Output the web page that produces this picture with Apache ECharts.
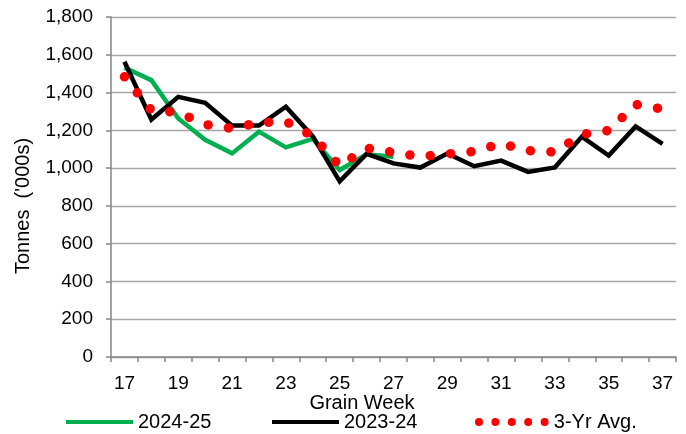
<!DOCTYPE html>
<html>
<head>
<meta charset="utf-8">
<script src="https://cdn.jsdelivr.net/npm/echarts@6/dist/echarts.min.js"></script>
<style>
html,body{margin:0;padding:0;background:#fff;}
#chart{width:686px;height:434px;}
</style>
</head>
<body>
<div id="chart"></div>
<script>
// Categories (grain weeks)
const weeks = ['17','18','19','20','21','22','23','24','25','26','27','28','29','30','31','32','33','34','35','36','37'];
// Series values (thousand tonnes)
const crop2425 = [1532, 1466, 1263, 1150, 1078, 1193, 1110, 1155, 990, 1073, 1060];
const crop2324 = [1563, 1257, 1377, 1346, 1225, 1225, 1325, 1168, 930, 1075, 1025, 1003, 1077, 1010, 1040, 980, 1004, 1166, 1066, 1221, 1128];
const avg3yr   = [1484, 1306, 1295, 1231, 1210, 1241, 1247, 1170, 1012, 1106, 1083, 1061, 1075, 1088, 1130, 1092, 1085, 1178, 1199, 1337, 1313];
// Axis / labels
const seriesNames = ['2024-25', '2023-24', '3-Yr Avg.'];
const yMin = 0, yMax = 1800, yStep = 200;
const yTitle = "Tonnes  ('000s)";
const xTitle = 'Grain Week';

const FONT = "'Liberation Sans', Arial, sans-serif";
const FS = 19;

function dotsPath(n, r, gap) {
  let p = '';
  for (let i = 0; i < n; i++) {
    const cx = r + i * gap;
    p += 'M' + (cx - r) + ',' + r + 'a' + r + ',' + r + ' 0 1,0 ' + (2*r) + ',0a' + r + ',' + r + ' 0 1,0 ' + (-2*r) + ',0Z';
  }
  return 'path://' + p;
}

const chart = echarts.init(document.getElementById('chart'), null, {renderer: 'canvas'});
const legendBase = {
  orient: 'horizontal', padding: 0, top: 412, itemGap: 0,
  textStyle: {fontFamily: FONT, fontSize: FS + 1, color: '#000'},
  selectedMode: false
};
chart.setOption({
  animation: false,
  backgroundColor: '#fff',
  grid: {left: 111, right: 10, top: 17, bottom: 77, containLabel: false},
  xAxis: {
    type: 'category',
    data: weeks,
    boundaryGap: true,
    axisLine: {show: true, lineStyle: {color: '#868686', width: 1.5}},
    axisTick: {show: true, interval: 0, length: 5, lineStyle: {color: '#868686', width: 1.5}},
    axisLabel: {interval: 1, margin: 17, fontFamily: FONT, fontSize: FS, color: '#000'},
    splitLine: {show: false}
  },
  yAxis: {
    type: 'value',
    min: yMin, max: yMax, interval: yStep,
    axisLine: {show: true, lineStyle: {color: '#868686', width: 1.5}},
    axisTick: {show: true, length: 5, lineStyle: {color: '#868686', width: 1.5}},
    axisLabel: {margin: 18, fontFamily: FONT, fontSize: FS, color: '#000',
      formatter: v => v.toLocaleString('en-US')},
    splitLine: {show: true, lineStyle: {color: '#A6A6A6', width: 1.3}}
  },
  legend: [
    Object.assign({}, legendBase, {left: 66, data: [{name: seriesNames[0], icon: 'rect'}], itemWidth: 67, itemHeight: 4}),
    Object.assign({}, legendBase, {left: 272, data: [{name: seriesNames[1], icon: 'rect'}], itemWidth: 67, itemHeight: 4}),
    Object.assign({}, legendBase, {left: 475, data: [{name: seriesNames[2], icon: dotsPath(5, 4, 16.4)}], itemWidth: 74, itemHeight: 8})
  ],
  graphic: [
    {type: 'text', x: 23, y: 206, rotation: Math.PI / 2,
      style: {text: yTitle, font: (FS + 1) + 'px ' + FONT, fill: '#000', align: 'center', verticalAlign: 'middle'}},
    {type: 'text', x: 362, y: 403,
      style: {text: xTitle, font: (FS + 1) + 'px ' + FONT, fill: '#000', align: 'center', verticalAlign: 'middle'}}
  ],
  series: [
    {name: seriesNames[0], type: 'line', data: crop2425, symbol: 'none', z: 2,
      itemStyle: {color: '#00B050'},
      lineStyle: {color: '#00B050', width: 4.5, join: 'miter'}},
    {name: seriesNames[1], type: 'line', data: crop2324, symbol: 'none', z: 3,
      itemStyle: {color: '#000000'},
      lineStyle: {color: '#000000', width: 4.5, join: 'miter'}},
    {name: seriesNames[2], type: 'line', data: avg3yr, symbol: 'none', z: 4,
      itemStyle: {color: '#FF0000'},
      lineStyle: {color: '#FF0000', width: 9.5, type: [0.1, 20.4], cap: 'round', join: 'round'}}
  ]
});
</script>
</body>
</html>
